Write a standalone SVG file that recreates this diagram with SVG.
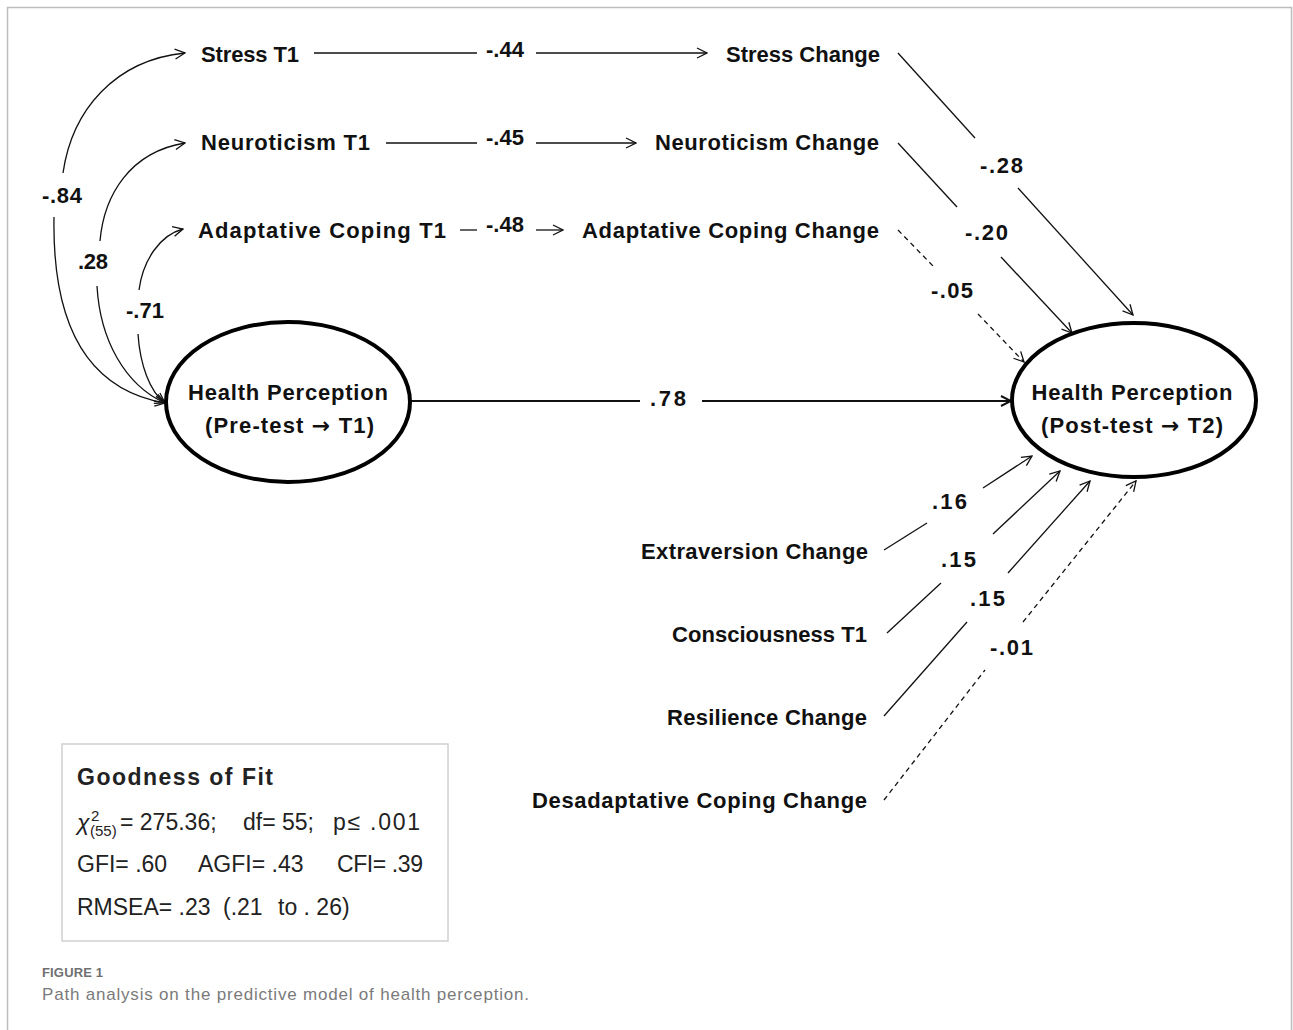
<svg xmlns="http://www.w3.org/2000/svg" width="1293" height="1030" viewBox="0 0 1293 1030">
<defs>
<style>
.lbl{font-family:"Liberation Sans",Arial,sans-serif;font-weight:bold;font-size:22px;fill:#111}
.num{font-family:"Liberation Sans",Arial,sans-serif;font-weight:bold;font-size:22px;fill:#111}
.arrw{font-family:"DejaVu Sans",sans-serif;font-weight:bold}
.fit{font-family:"Liberation Sans",Arial,sans-serif;font-size:23px;fill:#222}
.small{font-family:"Liberation Sans",Arial,sans-serif;font-size:15px;fill:#222}
.ln{fill:none;stroke:#111;stroke-width:1.3}
.dash{fill:none;stroke:#111;stroke-width:1.3;stroke-dasharray:5 4}
.ell{fill:#fff;stroke:#000;stroke-width:4}
.frame{fill:none;stroke:#bdbdbd;stroke-width:1.5}
</style>
<marker id="arr" viewBox="0 0 12 12" refX="11" refY="6" markerWidth="12" markerHeight="12" markerUnits="userSpaceOnUse" orient="auto">
<path d="M1,1 L11,6 L1,11" fill="none" stroke="#111" stroke-width="1.3"/>
</marker>
<marker id="arrb" viewBox="0 0 12 12" refX="11" refY="6" markerWidth="12" markerHeight="12" markerUnits="userSpaceOnUse" orient="auto">
<path d="M1,1 L11,6 L1,11" fill="none" stroke="#111" stroke-width="2"/>
</marker>
</defs>
<rect width="1293" height="1030" fill="#fff"/>
<path class="frame" d="M7.5,1030 L7.5,7.5 L1291.5,7.5 L1291.5,1030"/>

<g id="connectors">
<line class="ln" x1="314" y1="53" x2="477" y2="53"/>
<line class="ln" x1="536" y1="53" x2="707" y2="53" marker-end="url(#arr)"/>
<line class="ln" x1="386" y1="143" x2="477" y2="143"/>
<line class="ln" x1="536" y1="143" x2="636" y2="143" marker-end="url(#arr)"/>
<line class="ln" x1="460" y1="230" x2="477" y2="230"/>
<line class="ln" x1="536" y1="230" x2="563" y2="230" marker-end="url(#arr)"/>
<path class="ln" d="M63,173 C72,110 115,60 185,53" marker-end="url(#arr)"/>
<path class="ln" d="M54,217 C52,330 90,390 165,403" marker-end="url(#arr)"/>
<path class="ln" d="M100,241 C104,195 130,152 185,143" marker-end="url(#arr)"/>
<path class="ln" d="M97,286 C100,340 125,385 165,403" marker-end="url(#arr)"/>
<path class="ln" d="M139,290 C143,260 160,235 183,229" marker-end="url(#arr)"/>
<path class="ln" d="M138,334 C140,365 150,392 165,403" marker-end="url(#arr)"/>
<line x1="410" y1="401" x2="640" y2="401" stroke="#111" stroke-width="2"/>
<line x1="702" y1="401" x2="1011" y2="401" stroke="#111" stroke-width="2" marker-end="url(#arrb)"/>
<line class="ln" x1="898" y1="53" x2="975" y2="138"/>
<line class="ln" x1="1018" y1="188" x2="1133" y2="315" marker-end="url(#arr)"/>
<line class="ln" x1="898" y1="143" x2="957" y2="207"/>
<line class="ln" x1="1001" y1="257" x2="1072" y2="333" marker-end="url(#arr)"/>
<line class="dash" x1="898" y1="230" x2="933" y2="266"/>
<line class="dash" x1="978" y1="314" x2="1024" y2="362" marker-end="url(#arr)"/>
<line class="ln" x1="884" y1="550" x2="927" y2="523"/>
<line class="ln" x1="983" y1="488" x2="1032" y2="456" marker-end="url(#arr)"/>
<line class="ln" x1="887" y1="633" x2="941" y2="583"/>
<line class="ln" x1="993" y1="534" x2="1060" y2="471" marker-end="url(#arr)"/>
<line class="ln" x1="884" y1="716" x2="967" y2="622"/>
<line class="ln" x1="1008" y1="573" x2="1090" y2="481" marker-end="url(#arr)"/>
<line class="dash" x1="884" y1="800" x2="985" y2="670"/>
<line class="dash" x1="1023" y1="622" x2="1136" y2="481" marker-end="url(#arr)"/>
<text class="num" x="486" y="57" textLength="38">-.44</text>
<text class="num" x="486" y="145" textLength="38">-.45</text>
<text class="num" x="486" y="232" textLength="38">-.48</text>
<text class="num" x="42" y="203" textLength="40">-.84</text>
<text class="num" x="78" y="269" textLength="30">.28</text>
<text class="num" x="126" y="318" textLength="38">-.71</text>
<text class="num" x="650" y="406" textLength="36">.78</text>
<text class="num" x="980" y="173" textLength="43">-.28</text>
<text class="num" x="965" y="240" textLength="43">-.20</text>
<text class="num" x="931" y="298" textLength="42">-.05</text>
<text class="num" x="932" y="509" textLength="35">.16</text>
<text class="num" x="941" y="567" textLength="35">.15</text>
<text class="num" x="970" y="606" textLength="35">.15</text>
<text class="num" x="990" y="655" textLength="43">-.01</text>
</g>

<g id="stress_t1"><text class="lbl" x="201" y="62" textLength="98">Stress T1</text></g>
<g id="stress_change"><text class="lbl" x="726" y="62" textLength="154">Stress Change</text></g>
<g id="neuroticism_t1"><text class="lbl" x="201" y="150" textLength="169">Neuroticism T1</text></g>
<g id="neuroticism_change"><text class="lbl" x="655" y="150" textLength="224">Neuroticism Change</text></g>
<g id="adaptative_coping_t1"><text class="lbl" x="198" y="238" textLength="248">Adaptative Coping T1</text></g>
<g id="adaptative_coping_change"><text class="lbl" x="582" y="238" textLength="297">Adaptative Coping Change</text></g>

<g id="health_perception_t1">
<ellipse class="ell" cx="288" cy="402" rx="122" ry="80"/>
<text class="lbl" x="288" y="400" text-anchor="middle" textLength="200">Health Perception</text>
<text class="lbl" x="205" y="433" textLength="169">(Pre-test <tspan class="arrw">→</tspan> T1)</text>
</g>
<g id="health_perception_t2">
<ellipse class="ell" cx="1134" cy="400" rx="122" ry="77"/>
<text class="lbl" x="1132" y="400" text-anchor="middle" textLength="201">Health Perception</text>
<text class="lbl" x="1041" y="433" textLength="182">(Post-test <tspan class="arrw">→</tspan> T2)</text>
</g>

<g id="extraversion_change"><text class="lbl" x="641" y="559" textLength="227">Extraversion Change</text></g>
<g id="consciousness_t1"><text class="lbl" x="672" y="642" textLength="195">Consciousness T1</text></g>
<g id="resilience_change"><text class="lbl" x="667" y="725" textLength="200">Resilience Change</text></g>
<g id="desadaptative_coping_change"><text class="lbl" x="532" y="808" textLength="335">Desadaptative Coping Change</text></g>

<g id="goodness_of_fit">
<rect x="62" y="744" width="386" height="197" fill="#fff" stroke="#d0d0d0" stroke-width="1.5"/>
<text class="fit" x="77" y="785" font-weight="bold" font-size="24" textLength="196">Goodness of Fit</text>
<text class="fit" x="77" y="830" font-family="'DejaVu Serif',serif" font-style="italic">χ</text>
<text class="small" x="91" y="821">2</text>
<text class="small" x="90" y="836">(55)</text>
<text class="fit" x="120" y="830">= 275.36;</text>
<text class="fit" x="243" y="830">df= 55;</text>
<text class="fit" x="333" y="830" textLength="87">p≤ .001</text>
<text class="fit" x="77" y="872">GFI= .60</text>
<text class="fit" x="198" y="872">AGFI= .43</text>
<text class="fit" x="337" y="872" textLength="86">CFI= .39</text>
<text class="fit" x="77" y="915">RMSEA= .23</text>
<text class="fit" x="223" y="915">(.21</text>
<text class="fit" x="278" y="915">to . 26)</text>
</g>

<g id="caption">
<text x="42" y="977" font-family="'Liberation Sans',Arial,sans-serif" font-size="13" font-weight="bold" fill="#707070" textLength="61">FIGURE 1</text>
<text x="42" y="1000" font-family="'Liberation Sans',Arial,sans-serif" font-size="17" fill="#7a7a7a" textLength="487">Path analysis on the predictive model of health perception.</text>
</g>
</svg>
